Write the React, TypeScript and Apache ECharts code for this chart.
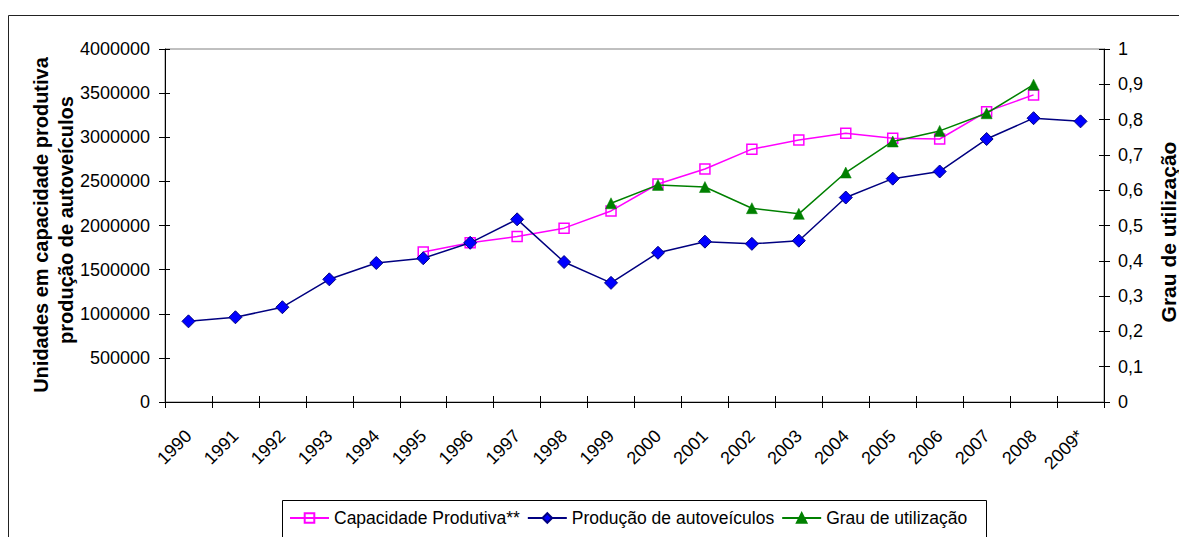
import React, { useEffect, useRef } from "react";
import * as echarts from "echarts";

const categories = ["1990","1991","1992","1993","1994","1995","1996","1997","1998","1999","2000","2001","2002","2003","2004","2005","2006","2007","2008","2009*"];
const capacidade = [null,null,null,null,null,1700000,1805000,1875000,1970000,2165000,2470000,2640000,2865000,2970000,3045000,2990000,2980000,3290000,3480000,null];
const producao = [914000,960000,1074000,1390000,1575000,1629000,1804000,2070000,1586000,1350000,1691000,1817000,1792000,1828000,2317000,2531000,2612000,2980000,3216000,3180000];
const grau = [null,null,null,null,null,null,null,null,null,0.563,0.615,0.609,0.549,0.533,0.65,0.738,0.768,0.818,0.899,null];
const leftTicks = { min: 0, max: 4000000, interval: 500000 };
const rightTicks = { min: 0, max: 1, interval: 0.1 };

const FONT = "'Liberation Sans', Arial, sans-serif";

export default function App() {
  const ref = useRef<HTMLDivElement>(null);
  useEffect(() => {
    if (!ref.current) return;
    const chart = echarts.init(ref.current, null, { renderer: "svg" });
    const baseLabel = { color: "#000", fontSize: 18, fontFamily: FONT };
    const option: any = {
      animation: false,
      backgroundColor: "#fff",
      textStyle: { fontFamily: FONT },
      grid: { left: 165, right: 75, top: 49, bottom: 135, show: true, borderColor: "#808080", borderWidth: 1, backgroundColor: "transparent" },
      legend: {
        left: 289,
        top: 509,
        padding: 0,
        itemWidth: 39,
        itemHeight: 12,
        itemGap: 7,
        textStyle: { color: "#000", fontSize: 17.5, fontFamily: FONT },
        data: ["Capacidade Produtiva**", "Produção de autoveículos", "Grau de utilização"],
      },
      xAxis: [
        {
          type: "category",
          data: categories,
          boundaryGap: true,
          axisLine: { show: true, lineStyle: { color: "#000", width: 1 } },
          axisTick: { show: true, length: 6, lineStyle: { color: "#000" } },
          axisLabel: { ...baseLabel, rotate: 45, margin: 31, interval: 0 },
          splitLine: { show: false },
        },
        {
          type: "category",
          data: categories,
          position: "bottom",
          boundaryGap: true,
          axisLine: { show: false },
          axisTick: { show: true, inside: true, length: 6, lineStyle: { color: "#000" } },
          axisLabel: { show: false },
          splitLine: { show: false },
        },
      ],
      yAxis: [
        {
          type: "value",
          ...leftTicks,
          position: "left",
          axisLine: { show: true, lineStyle: { color: "#000", width: 1 } },
          axisTick: { show: true, length: 6, lineStyle: { color: "#000" } },
          axisLabel: { ...baseLabel, margin: 15, formatter: (v: number) => String(v) },
          splitLine: { show: false },
        },
        {
          type: "value",
          ...rightTicks,
          position: "right",
          axisLine: { show: true, lineStyle: { color: "#000", width: 1 } },
          axisTick: { show: true, length: 6, lineStyle: { color: "#000" } },
          axisLabel: { ...baseLabel, margin: 14, formatter: (v: number) => String(Math.round(v * 10) / 10).replace(".", ",") },
          splitLine: { show: false },
        },
        {
          type: "value",
          ...leftTicks,
          position: "left",
          axisLine: { show: false },
          axisTick: { show: true, inside: true, length: 5, lineStyle: { color: "#000" } },
          axisLabel: { show: false },
          splitLine: { show: false },
        },
        {
          type: "value",
          ...rightTicks,
          position: "right",
          axisLine: { show: false },
          axisTick: { show: true, inside: true, length: 5, lineStyle: { color: "#000" } },
          axisLabel: { show: false },
          splitLine: { show: false },
        },
      ],
      series: [
        {
          name: "Capacidade Produtiva**",
          type: "line",
          yAxisIndex: 0,
          data: capacidade,
          symbol: "rect",
          symbolSize: 10,
          lineStyle: { color: "#FF00FF", width: 1.5 },
          itemStyle: { color: "rgba(255,255,255,0)", borderColor: "#FF00FF", borderWidth: 1.5 },
          z: 3,
        },
        {
          name: "Produção de autoveículos",
          type: "line",
          yAxisIndex: 0,
          data: producao,
          symbol: "diamond",
          symbolSize: 13,
          lineStyle: { color: "#000080", width: 1.5 },
          itemStyle: { color: "#0000FF", borderColor: "#000080", borderWidth: 1 },
          z: 4,
        },
        {
          name: "Grau de utilização",
          type: "line",
          yAxisIndex: 1,
          data: grau,
          symbol: "triangle",
          symbolSize: 11,
          lineStyle: { color: "#008000", width: 1.5 },
          itemStyle: { color: "#008000", borderColor: "#008000", borderWidth: 0.5 },
          z: 5,
        },
      ],
      graphic: [
        { type: "rect", silent: true, shape: { x: 8.5, y: 15.5, width: 1300, height: 700 }, style: { fill: "none", stroke: "#222", lineWidth: 1 }, z: -1 },
        { type: "rect", silent: true, shape: { x: 282.5, y: 500.5, width: 704, height: 100 }, style: { fill: "none", stroke: "#000", lineWidth: 1 }, z: -1 },
        { type: "text", x: 41, y: 225, rotation: Math.PI / 2, style: { text: "Unidades em capacidade produtiva", font: `bold 20px ${FONT}`, fill: "#000", align: "center", verticalAlign: "middle" } },
        { type: "text", x: 66, y: 220, rotation: Math.PI / 2, style: { text: "produção de autoveículos", font: `bold 20px ${FONT}`, fill: "#000", align: "center", verticalAlign: "middle" } },
        { type: "text", x: 1168, y: 232, rotation: Math.PI / 2, style: { text: "Grau de utilização", font: `bold 21px ${FONT}`, fill: "#000", align: "center", verticalAlign: "middle" } },
      ],
    };
    chart.setOption(option);
    return () => chart.dispose();
  }, []);
  return <div ref={ref} style={{ position: "absolute", left: 0, top: 0, width: 1179, height: 537 }} />;
}
